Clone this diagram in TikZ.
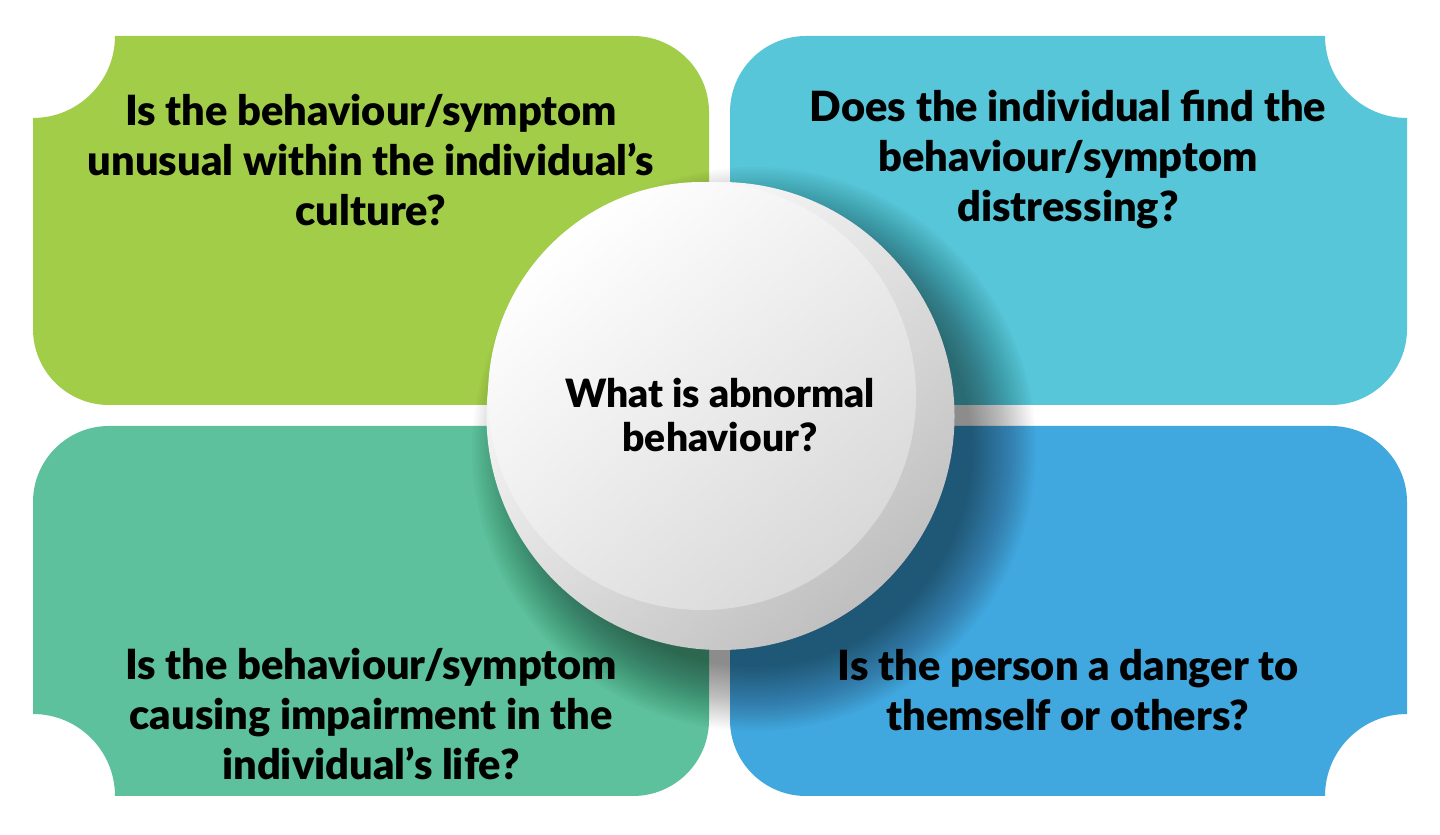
\documentclass[tikz,border=0pt]{standalone}
\usepackage{fontspec}
\setmainfont{Lato Black}
\definecolor{cgreen}{HTML}{A2CD49}
\definecolor{ccyan}{HTML}{57C6D8}
\definecolor{cteal}{HTML}{5CC19C}
\definecolor{cblue}{HTML}{41A7DF}
\begin{document}
\begin{tikzpicture}[x=1pt,y=1pt,
  qtext/.style={align=center,font=\fontsize{41.6}{50}\selectfont,text=black,inner sep=0pt},
  ctext/.style={align=center,font=\fontsize{39}{44}\selectfont,text=black,inner sep=0pt}]
\useasboundingbox (0,0) rectangle (1440,835);
\fill[white] (0,0) rectangle (1440,835);
% top-left box (concave top-left corner)
\fill[cgreen] (115,799) -- (633,799) arc (90:0:76) -- (709,506) arc (0:-90:76)
  -- (109,430) arc (270:180:76) -- (33,717) arc (270:360:82) -- cycle;
% top-right box (concave top-right corner)
\fill[ccyan] (806,799) -- (1325,799) arc (180:270:82) -- (1407,506) arc (0:-90:76)
  -- (806,430) arc (270:180:76) -- (730,723) arc (180:90:76) -- cycle;
% bottom-left box (concave bottom-left corner)
\fill[cteal] (33,121) -- (33,333) arc (180:90:76) -- (633,409) arc (90:0:76)
  -- (709,115) arc (0:-90:76) -- (115,39) arc (0:90:82) -- cycle;
% bottom-right box (concave bottom-right corner)
\fill[cblue] (806,409) -- (1331,409) arc (90:0:76) -- (1407,121) arc (90:180:82)
  -- (806,39) arc (270:180:76) -- (730,333) arc (180:90:76) -- cycle;
% soft shadow of the central disc
\foreach \k in {0,...,32}
  \fill[black,opacity=0.015] (754,386) circle[radius=218+\k*2];
% central disc
\shade[top color=white,bottom color=black!25,shading angle=40]
  (720.5,419) circle[radius=234];
\shade[top color=white,bottom color=black!15,shading angle=40]
  (702,439) circle[radius=214];
% texts
\node[qtext] (q1) at (371,675) {Is the behaviour/symptom\\unusual within the individual’s\\culture?};
\node[qtext] (q2) at (1068,675) {Does the individual find the\\behaviour/symptom\\distressing?};
\node[qtext] (q3) at (371,121) {Is the behaviour/symptom\\causing impairment in the\\individual’s life?};
\node[qtext] (q4) at (1068,145) {Is the person a danger to\\themself or others?};
\node[ctext] (c) at (720,420) {What is abnormal\\behaviour?};
\end{tikzpicture}
\end{document}
